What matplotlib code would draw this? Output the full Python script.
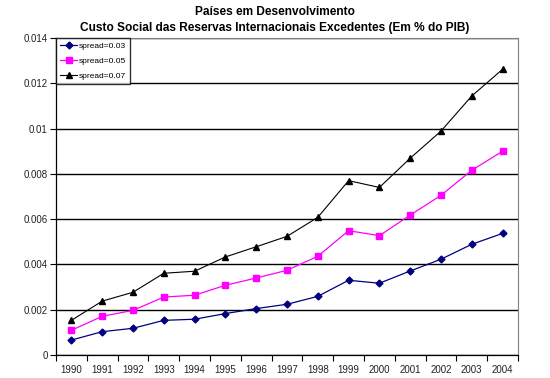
import matplotlib
matplotlib.use("Agg")
import matplotlib.pyplot as plt
import numpy as np

plt.rcParams['font.family'] = ['Liberation Sans', 'DejaVu Sans']

years = ["1990", "1991", "1992", "1993", "1994", "1995", "1996", "1997",
         "1998", "1999", "2000", "2001", "2002", "2003", "2004"]
spread_003 = [0.00066, 0.00103, 0.00118, 0.00153, 0.00158, 0.00183, 0.00205, 0.00224,
              0.00259, 0.00330, 0.00317, 0.00371, 0.00423, 0.00489, 0.00537]
spread_005 = [0.00109, 0.00171, 0.00197, 0.00256, 0.00264, 0.00308, 0.00340, 0.00374,
              0.00436, 0.00549, 0.00527, 0.00618, 0.00705, 0.00816, 0.00900]
spread_007 = [0.00153, 0.00238, 0.00277, 0.00361, 0.00370, 0.00433, 0.00478, 0.00524,
              0.00608, 0.00770, 0.00740, 0.00869, 0.00989, 0.01144, 0.01262]
y_ticks = [0, 0.002, 0.004, 0.006, 0.008, 0.01, 0.012, 0.014]
y_tick_labels = ["0", "0.002", "0.004", "0.006", "0.008", "0.01", "0.012", "0.014"]
title = "Países em Desenvolvimento\nCusto Social das Reservas Internacionais Excedentes (Em % do PIB)"

fig = plt.figure(figsize=(5.5, 3.78), dpi=100)
ax = fig.add_axes([56/550, 1 - 355/378, (518-56)/550, (355-38)/378])

x = np.arange(len(years))
ax.plot(x, spread_003, color='#000080', marker='D', markersize=3.5, lw=0.9, label='spread=0.03', zorder=3)
ax.plot(x, spread_005, color='#FF00FF', marker='s', markersize=4.5, lw=0.9, label='spread=0.05', zorder=3)
ax.plot(x, spread_007, color='black', marker='^', markersize=4.5, lw=0.8, label='spread=0.07', zorder=3)

ax.set_xlim(-0.5, len(years) - 0.5)
ax.set_ylim(0, 0.014)
ax.set_yticks(y_ticks)
ax.set_yticklabels(y_tick_labels)
ax.yaxis.grid(True, color='black', lw=1.0)
ax.set_axisbelow(True)

ax.set_xticks(np.arange(-0.5, len(years), 1.0))
ax.set_xticklabels([])
ax.set_xticks(x, minor=True)
ax.set_xticklabels(years, minor=True)
ax.tick_params(axis='x', which='minor', length=0, pad=7, labelsize=7, labelcolor='#222222')
ax.tick_params(axis='x', which='major', length=4, width=0.8, direction='out', color='black')
ax.tick_params(axis='y', length=4, width=0.8, direction='out', labelsize=7, labelcolor='#222222', pad=2)

for s in ['top', 'right']:
    ax.spines[s].set_color('#808080')
    ax.spines[s].set_linewidth(0.8)
for s in ['left', 'bottom']:
    ax.spines[s].set_color('black')
    ax.spines[s].set_linewidth(0.9)

leg = ax.legend(loc='upper left', bbox_to_anchor=(0, 1), fontsize=6, frameon=True, fancybox=False,
                edgecolor='black', borderaxespad=0, handlelength=2.0, handletextpad=0.2,
                borderpad=0.5, labelspacing=0.85)
leg.get_frame().set_linewidth(1.0)

fig.text(0.5, 1 - 20/378, title, ha='center', va='center', fontsize=8.6, fontweight='bold', linespacing=1.35)

fig.savefig('out.png', dpi=100)
